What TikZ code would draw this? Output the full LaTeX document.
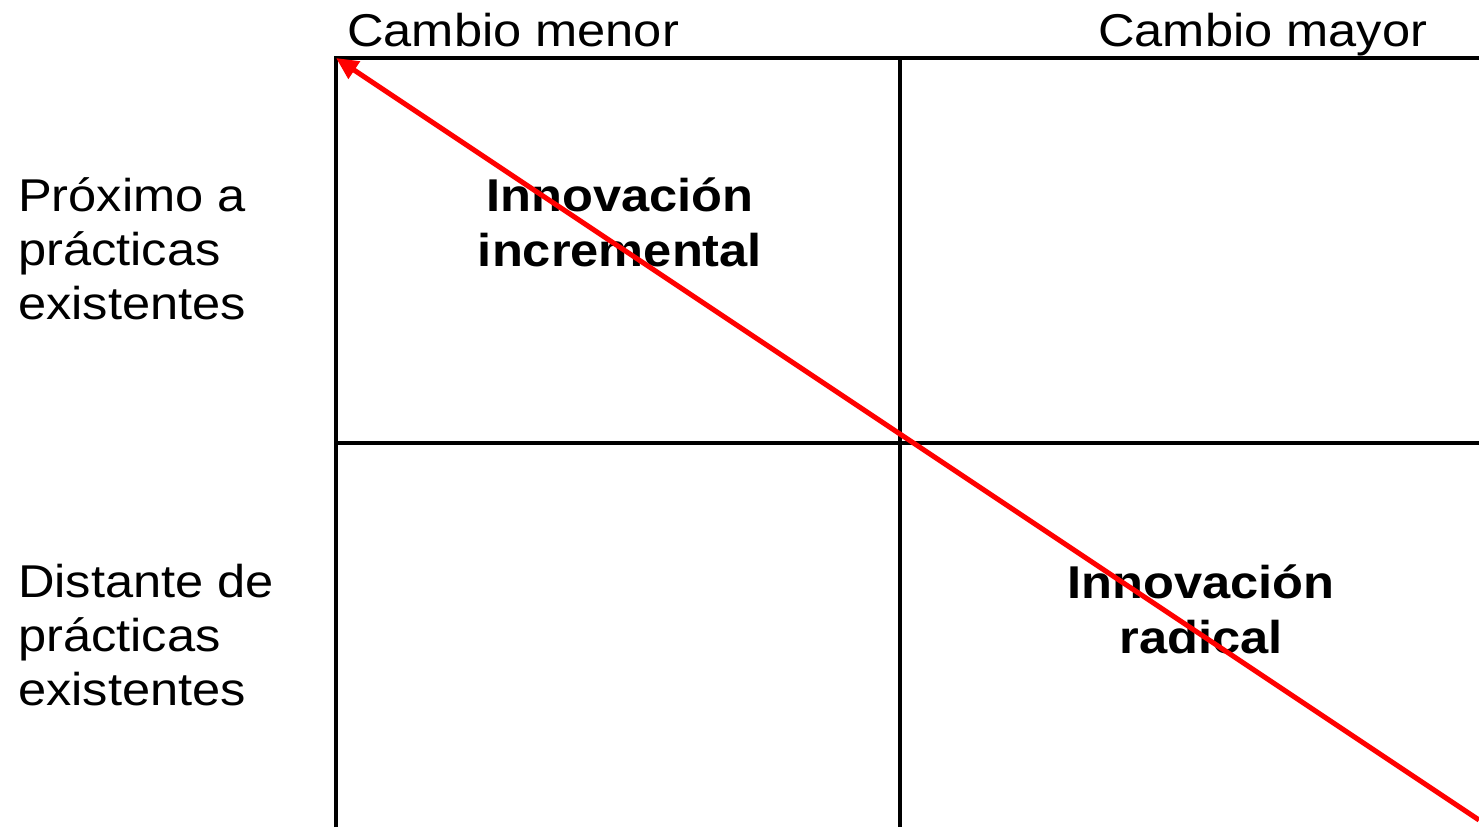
\documentclass[tikz,border=0pt]{standalone}
\usepackage{fontspec}
\setmainfont{Liberation Sans}
\usetikzlibrary{arrows.meta}
\tikzset{
  lbl/.style={font=\fontsize{46}{54}\selectfont, inner sep=0pt, xscale=1.1, transform shape},
  blbl/.style={lbl, font=\fontsize{46}{55}\selectfont\bfseries, align=center},
  gridline/.style={line width=4pt, black},
  redarrow/.style={line width=5pt, red, -{Triangle[length=22pt,width=20pt]}}
}
\begin{document}
\begin{tikzpicture}[x=1pt,y=-1pt]
\path[fill=white] (0,0) rectangle (1479,827);
\useasboundingbox (0,0) rectangle (1479,827);
% grid corners
\coordinate (tl) at (336,58);
\coordinate (tr) at (1479,58);
\coordinate (bl) at (336,827);
\coordinate (tm) at (900,58);
\coordinate (bm) at (900,827);
\coordinate (ml) at (336,443);
\coordinate (mr) at (1479,443);
\coordinate (br) at (1479,820);
\draw[gridline] (bl) -- (tl) -- (tr);
\draw[gridline] (tm) -- (bm);
\draw[gridline] (ml) -- (mr);
% labels
\node[lbl, anchor=base west] (cmenor) at (347,46) {Cambio menor};
\node[lbl, anchor=base west] (cmayor) at (1098,46) {Cambio mayor};
\node[lbl, anchor=base west, align=left] (prox) at (18,319) {Próximo a\\prácticas\\existentes};
\node[lbl, anchor=base west, align=left] (dist) at (18,705) {Distante de\\prácticas\\existentes};
\node[blbl, anchor=base] (incr) at (620,266) {Innovación\\incremental};
\node[blbl, anchor=base] (rad) at (1201,653) {Innovación\\radical};
% arrow
\draw[redarrow] (br) -- (tl);
\end{tikzpicture}
\end{document}
